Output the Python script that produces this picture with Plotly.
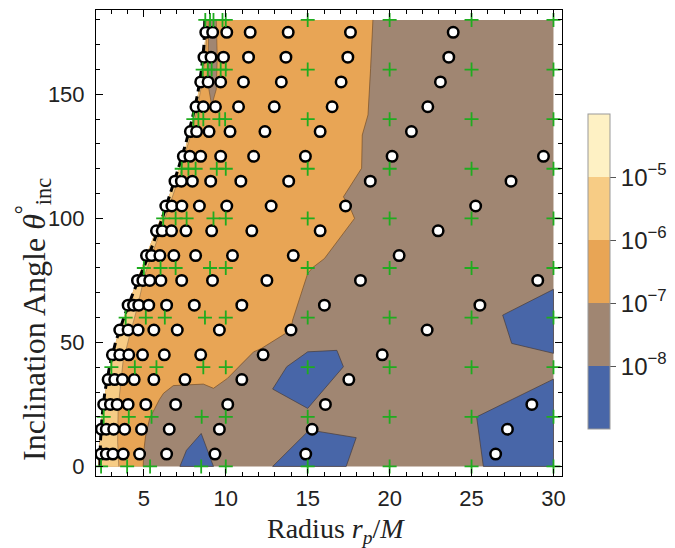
import plotly.graph_objects as go

# ---------------- data ----------------
# white circles: rows of inclination (deg) and radii r_p/M in each row
circ_theta = [5, 15, 25, 35, 45, 55, 65, 75, 85, 95, 105, 115, 125, 135, 145, 155, 165, 175]
circ_r = [
    [2.38, 2.71, 3.11, 3.74, 4.74, 6.39, 9.34, 14.88, 26.47],
    [2.41, 2.71, 3.16, 3.83, 4.86, 6.55, 9.61, 15.27, 27.19],
    [2.55, 2.96, 3.37, 4.04, 5.12, 6.94, 10.12, 16.08, 28.68],
    [2.82, 3.22, 3.69, 4.41, 5.61, 7.51, 10.98, 17.51],
    [3.08, 3.53, 4.08, 4.92, 6.25, 8.47, 12.28, 19.55],
    [3.53, 4.04, 4.65, 5.61, 7.04, 9.61, 13.98, 22.29],
    [4.04, 4.37, 4.69, 5.30, 6.39, 8.08, 10.98, 16.02, 25.51],
    [4.61, 4.94, 5.36, 6.04, 7.31, 9.19, 12.51, 18.22, 29.04],
    [5.16, 5.47, 5.98, 6.83, 8.16, 10.41, 14.12, 20.58],
    [5.77, 6.12, 6.69, 7.57, 9.14, 11.59, 15.76, 22.96],
    [6.34, 6.71, 7.32, 8.39, 10.06, 12.77, 17.31, 25.25],
    [6.90, 7.29, 7.96, 9.08, 10.92, 13.84, 18.82, 27.41],
    [7.41, 7.81, 8.47, 9.69, 11.70, 14.86, 20.15, 29.39],
    [7.84, 8.22, 8.98, 10.26, 12.39, 15.76, 21.33],
    [8.18, 8.63, 9.37, 10.78, 12.96, 16.49, 22.33],
    [8.47, 8.92, 9.69, 11.08, 13.39, 17.04, 23.10],
    [8.67, 9.10, 9.86, 11.39, 13.67, 17.45, 23.61],
    [8.78, 9.20, 10.06, 11.49, 13.81, 17.61, 23.88],
]

# green plus markers: grid rows
plus_theta = [0, 20, 40, 60, 80, 100, 120, 140, 160, 180]
plus_r_inner = [
    [2.39, 3.98, 5.38, 8.50, 10.0],
    [2.55, 4.08, 5.47, 8.53, 10.0],
    [3.02, 4.45, 5.77, 8.63, 10.0],
    [3.89, 5.12, 6.28, 8.73, 10.0],
    [5.00, 6.02, 6.94, 9.04, 10.0],
    [6.18, 6.94, 7.61, 9.25, 10.0],
    [7.31, 7.72, 8.16, 9.45, 10.0],
    [8.02, 8.33, 8.63, 9.61, 9.96],
    [8.59, 8.90, 9.14, 9.69, 10.0],
    [8.75, 9.04, 9.25, 9.80, 10.0],
]
plus_r_outer = [15, 20, 25, 30]

# dashed ISCO curve
isco_theta = [0, 10, 20, 30, 40, 50, 60, 70, 80, 90, 100, 110, 120, 130, 140, 150, 160, 170, 180]
isco_r = [2.32, 2.35, 2.45, 2.62, 2.90, 3.27, 3.78, 4.35, 4.98, 5.58, 6.12, 6.62, 7.10, 7.55,
          7.95, 8.28, 8.52, 8.67, 8.72]

# contour regions (boundaries in data coordinates)
edge_theta = [0, 5, 15, 25, 35, 45, 55, 65, 75, 85, 95, 105, 115, 125, 135, 145, 155, 165, 175, 180]
edge_r = [2.20, 2.25, 2.35, 2.50, 2.78, 3.06, 3.50, 4.02, 4.58, 5.14, 5.74, 6.31, 6.87, 7.38,
          7.82, 8.16, 8.45, 8.66, 8.77, 8.80]
r_max, th_min, th_max = 30.0, 0.0, 180.0

# boundary between 1e-6..1e-5 and 1e-7..1e-6
band_theta = [0, 10, 23.5, 42.3, 53, 63.8, 77.3, 90.7, 104, 117.5, 127, 135, 145, 155, 165, 175, 180]
band_r = [3.47, 3.40, 3.43, 3.73, 4.14, 4.59, 5.06, 5.80, 6.50, 7.20, 7.55, 7.95, 8.28, 8.56,
          8.74, 8.85, 8.87]

# boundary between 1e-7..1e-6 and 1e-8..1e-7
ob_r = [4.96, 4.99, 5.10, 5.36, 5.67, 5.95, 6.20, 6.80, 8.63, 9.25, 10.10, 10.88, 11.70, 12.16,
        13.98, 14.08, 15.00, 15.31, 16.02, 17.86, 17.65, 17.18, 18.29, 18.33, 18.68, 18.84, 18.98]
ob_theta = [0, 5.9, 12, 19.5, 23.4, 27, 29.5, 32.6, 33.2, 31.5, 35.5, 40.9, 46.2, 47.5,
            55, 59, 77.8, 80.2, 83.8, 100, 103.3, 108.7, 120.2, 133.6, 141.7, 160.5, 180]

# thin 1e-8..1e-7 strip near the top
strip_r = [8.97, 9.42, 9.48, 9.42, 9.14, 8.97, 8.93]
strip_theta = [180, 180, 165, 152, 145.5, 152, 165]

# regions below 1e-8
blue_r = [
    [7.20, 7.60, 8.50, 9.25],
    [12.86, 13.72, 15.00, 16.78, 17.18, 15.00],
    [12.86, 15.10, 17.96, 17.35],
    [26.90, 30.00, 30.00, 27.45],
    [25.31, 30.00, 30.00, 25.72],
]
blue_theta = [
    [0, 6.5, 13.3, 0],
    [31.2, 40.2, 46.2, 46.8, 40.2, 23.4],
    [0, 14.7, 11.6, 0],
    [61.0, 71.4, 45.6, 49.6],
    [20.0, 35.2, 0, 0],
]

# colour bar levels (log10)
level_edges = [-9, -8, -7, -6, -5, -4]
level_colors = ["#4866a8", "#a08672", "#e8a555", "#f7cc85", "#fef1c4"]
cbar_ticks = [-8, -7, -6, -5]
cbar_text = ["10<sup>−8</sup>", "10<sup>−7</sup>", "10<sup>−6</sup>", "10<sup>−5</sup>"]

# ---------------- figure ----------------
BLUE, BROWN, ORANGE, LIGHT, PALE = level_colors
EDGE = "rgba(70,55,40,0.55)"
SANS = "Liberation Sans, Arial, sans-serif"
SERIF = "Liberation Serif, Times New Roman, serif"

fig = go.Figure()


def poly(xs, ys, color):
    fig.add_trace(go.Scatter(x=list(xs) + [xs[0]], y=list(ys) + [ys[0]], mode="lines",
                             fill="toself", fillcolor=color, line=dict(width=0, color=color),
                             hoverinfo="skip", showlegend=False))


def bline(xs, ys, closed=False, color=EDGE, width=1):
    xs, ys = list(xs), list(ys)
    if closed:
        xs, ys = xs + [xs[0]], ys + [ys[0]]
    fig.add_trace(go.Scatter(x=xs, y=ys, mode="lines", line=dict(color=color, width=width),
                             hoverinfo="skip", showlegend=False))


# base domain (1e-8..1e-7)
poly(edge_r + [r_max, r_max], edge_theta + [th_max, th_min], BROWN)
# 1e-7..1e-6 region
poly(edge_r + ob_r[::-1], edge_theta + ob_theta[::-1], ORANGE)
# 1e-6..1e-5 band
poly(edge_r + band_r[::-1], edge_theta + band_theta[::-1], LIGHT)
# thin brown strip
poly(strip_r, strip_theta, BROWN)
# blue islands
for bx, by in zip(blue_r, blue_theta):
    poly(bx, by, BLUE)

# contour boundary lines
bline(ob_r, ob_theta, color="rgba(120,80,40,0.7)")
bline(band_r, band_theta, color="rgba(120,90,60,0.5)")
bline(strip_r, strip_theta, closed=True, color="rgba(120,80,40,0.6)")
for bx, by in zip(blue_r, blue_theta):
    bline(bx, by, closed=True, color="rgba(70,60,60,0.7)")

# dashed ISCO line
fig.add_trace(go.Scatter(x=isco_r, y=isco_theta, mode="lines",
                         line=dict(color="black", width=3, dash="8px,5px"),
                         hoverinfo="skip", showlegend=False))

# white circles
cx, cy = [], []
for th, rs in zip(circ_theta, circ_r):
    cx += rs
    cy += [th] * len(rs)
fig.add_trace(go.Scatter(x=cx, y=cy, mode="markers",
                         marker=dict(symbol="circle", size=10.5, color="white",
                                     line=dict(color="black", width=2.5)),
                         hoverinfo="skip", showlegend=False))

# green plus markers
px, py = [], []
for th, rs in zip(plus_theta, plus_r_inner):
    for r in rs + plus_r_outer:
        px.append(r)
        py.append(th)
fig.add_trace(go.Scatter(x=px, y=py, mode="markers",
                         marker=dict(symbol="cross-thin", size=10,
                                     line=dict(color="#1fac1f", width=1.8)),
                         hoverinfo="skip", showlegend=False))

# colour bar (dummy trace)
n = len(level_colors)
cscale = []
for i, c in enumerate(level_colors):
    cscale.append([i / n, c])
    cscale.append([(i + 1) / n, c])
fig.add_trace(go.Scatter(
    x=[None], y=[None], mode="markers", showlegend=False, hoverinfo="skip",
    marker=dict(color=[-6], cmin=level_edges[0], cmax=level_edges[-1], colorscale=cscale,
                showscale=True,
                colorbar=dict(x=1.055, xanchor="left", y=0.4385, yanchor="middle",
                              len=0.677, lenmode="fraction", thickness=22,
                              thicknessmode="pixels", outlinewidth=1, outlinecolor="#999",
                              tickvals=cbar_ticks, ticktext=cbar_text, ticks="outside",
                              ticklen=6, tickcolor="#555", xpad=0, ypad=0,
                              tickfont=dict(family=SANS, size=24, color="#222")))))

tickfont = dict(family=SANS, size=22, color="#222")
axis_common = dict(showline=True, linecolor="black", linewidth=1, mirror="ticks",
                   ticks="inside", ticklen=7, tickwidth=1, tickcolor="black",
                   showgrid=False, zeroline=False, tickfont=tickfont)

fig.update_layout(
    width=675, height=548, autosize=False,
    margin=dict(l=96, r=113, t=10, b=72, autoexpand=False),
    paper_bgcolor="white", plot_bgcolor="white",
    xaxis=dict(range=[2.08, 30.52], tickvals=[5, 10, 15, 20, 25, 30],
               minor=dict(ticks="inside", ticklen=4, tickcolor="black", dtick=1, tick0=0),
               ticklabelstandoff=3, **axis_common),
    yaxis=dict(range=[-3.85, 184.0], tickvals=[0, 50, 100, 150],
               minor=dict(ticks="inside", ticklen=4, tickcolor="black", dtick=10, tick0=0),
               ticklabelstandoff=6, **axis_common),
    annotations=[
        dict(text="Radius <i>r</i><sub><i>p</i></sub>/<i>M</i>", xref="paper", yref="paper",
             x=0.514, y=-0.117, xanchor="center", yanchor="middle", showarrow=False,
             font=dict(family=SERIF, size=28, color="#222")),
        dict(text="Inclination Angle <i>θ</i><sup>°</sup><sub>inc</sub>", xref="paper",
             yref="paper", x=-0.133, y=0.335, xanchor="center", yanchor="middle",
             textangle=-90, showarrow=False,
             font=dict(family=SERIF, size=32, color="#222")),
    ],
)

fig.write_html("out.html")
